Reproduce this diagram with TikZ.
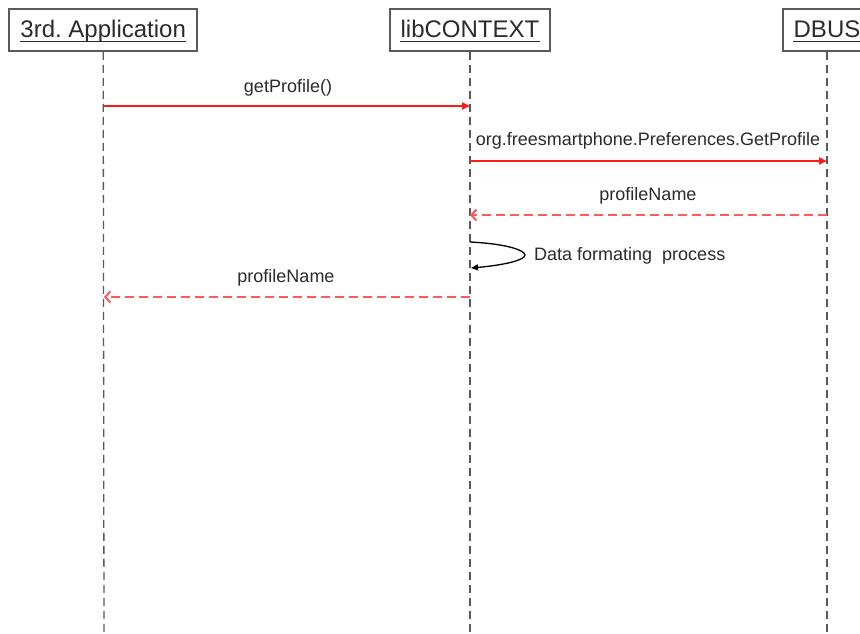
\documentclass[tikz,border=0pt]{standalone}
\usepackage{fontspec}
\setmainfont{Liberation Sans}
\frenchspacing
\usetikzlibrary{arrows.meta}
\definecolor{inkgray}{HTML}{2B2B2B}
\definecolor{framegray}{HTML}{5A5A5A}
\definecolor{msgred}{HTML}{FF1A1A}
\definecolor{retred}{HTML}{FF5A5A}
\tikzset{
  headbox/.style={draw=framegray, line width=1.5pt, minimum height=42pt, inner sep=0pt},
  headtext/.style={text=inkgray, font=\fontsize{24}{28}\selectfont, inner sep=0pt, anchor=base},
  lifeline/.style={draw=framegray, line width=1.3pt, dash pattern=on 8pt off 5pt},
  callmsg/.style={draw=msgred, line width=2pt, -{Triangle[length=8pt,width=7pt]}},
  retmsg/.style={draw=retred, line width=2pt, dash pattern=on 9pt off 5pt, -{Straight Barb[length=5pt,width=11pt]}},
  selfmsg/.style={draw=black, line width=1.3pt, -{Triangle[length=7pt,width=6pt]}},
  msglabel/.style={text=inkgray, font=\fontsize{18}{21}\selectfont, inner sep=0pt, anchor=base}
}
\begin{document}
\begin{tikzpicture}[x=1pt, y=-1pt]
\useasboundingbox (0,0) rectangle (860,633);
\clip (0,0) rectangle (860,633);
\fill[white] (0,0) rectangle (860,633);

% participant heads
\node[headbox, minimum width=188pt] (appbox) at (103.2,30) {};
\node[headbox, minimum width=160pt] (ctxbox) at (470,30) {};
\node[headbox, minimum width=88pt] (busbox) at (827,30) {};
\node[headtext] (apptxt) at (103.2,37) {3rd. Application};
\node[headtext] (ctxtxt) at (470,37) {libCONTEXT};
\node[headtext] (bustxt) at (827,37) {DBUS};
\foreach \lbl in {apptxt,ctxtxt,bustxt}
  \draw[inkgray, line width=1.2pt] ([yshift=-4.5pt]\lbl.base west) -- ([yshift=-4.5pt]\lbl.base east);

% lifelines
\coordinate (append) at (104,640);
\coordinate (ctxend) at (470,640);
\coordinate (busend) at (827,640);
\draw[lifeline] (appbox.south) -- (append);
\draw[lifeline] (ctxbox.south) -- (ctxend);
\draw[lifeline] (busbox.south) -- (busend);

% message anchors on the lifelines
\coordinate (m1a) at (104,106);
\coordinate (m1b) at (470,106);
\coordinate (m2a) at (470,161);
\coordinate (m2b) at (827,161);
\coordinate (m3a) at (827,215);
\coordinate (m3b) at (470,215);
\coordinate (s1a) at (470,242);
\coordinate (s1b) at (471,268);
\coordinate (m4a) at (470,297);
\coordinate (m4b) at (104,297);

% messages
\draw[callmsg] (m1a) -- (m1b);
\node[msglabel] (l1) at (288,92) {getProfile()};
\draw[callmsg] (m2a) -- (m2b);
\node[msglabel] (l2) at (648,145) {org.freesmartphone.Preferences.GetProfile};
\draw[retmsg] (m3a) -- (m3b);
\node[msglabel] (l3) at (648,200) {profileName};
\draw[selfmsg] (s1a) .. controls (510,244) and (525,251) .. (525,255)
   .. controls (525,260) and (505,265) .. (s1b);
\node[msglabel, anchor=base west] (l4) at (534,260.5) {Data formating\ \ process};
\draw[retmsg] (m4a) -- (m4b);
\node[msglabel] (l5) at (286,282) {profileName};
\end{tikzpicture}
\end{document}
